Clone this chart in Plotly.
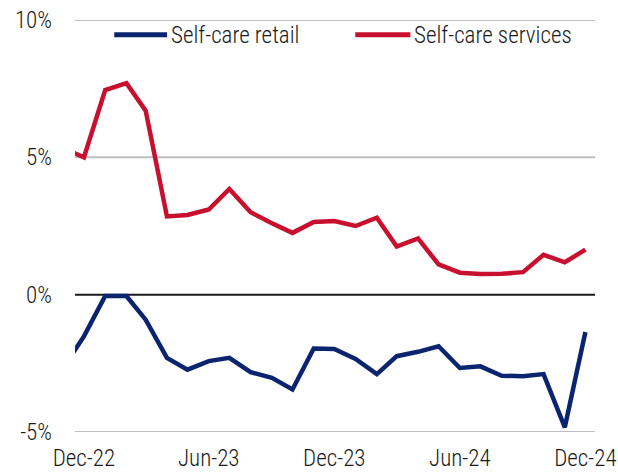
import plotly.graph_objects as go

# Monthly year-over-year growth, Nov-22 .. Dec-24
months = [
    "2022-11-01", "2022-12-01",
    "2023-01-01", "2023-02-01", "2023-03-01", "2023-04-01", "2023-05-01", "2023-06-01",
    "2023-07-01", "2023-08-01", "2023-09-01", "2023-10-01", "2023-11-01", "2023-12-01",
    "2024-01-01", "2024-02-01", "2024-03-01", "2024-04-01", "2024-05-01", "2024-06-01",
    "2024-07-01", "2024-08-01", "2024-09-01", "2024-10-01", "2024-11-01", "2024-12-01",
]
self_care_retail = [
    -2.65, -1.52,
    -0.05, -0.05, -0.91, -2.30, -2.73, -2.42,
    -2.30, -2.82, -3.03, -3.45, -1.96, -1.98,
    -2.34, -2.89, -2.24, -2.08, -1.88, -2.67,
    -2.61, -2.95, -2.97, -2.89, -4.83, -1.36,
]
self_care_services = [
    5.33, 5.00,
    7.45, 7.70, 6.70, 2.85, 2.90, 3.10,
    3.85, 3.00, 2.60, 2.25, 2.65, 2.68,
    2.50, 2.80, 1.75, 2.05, 1.10, 0.80,
    0.75, 0.76, 0.82, 1.45, 1.18, 1.64,
]
series_names = ["Self-care retail", "Self-care services"]
series_colors = ["#0b2470", "#c8102e"]

tick_dates = ["2022-12-01", "2023-06-01", "2023-12-01", "2024-06-01", "2024-12-01"]
tick_text = ["Dec-22", "Jun-23", "Dec-23", "Jun-24", "Dec-24"]
y_ticks = [-5, 0, 5, 10]
y_text = ["-5%", "0%", "5%", "10%"]
grid_levels = [-5, 5, 10]

FONT = "Roboto Condensed, Roboto, sans-serif"
TEXT = dict(family=FONT, size=23, color="#1a1a1a", weight=300)

fig = go.Figure()
for name, vals, color in zip(series_names, [self_care_retail, self_care_services], series_colors):
    fig.add_trace(go.Scatter(
        x=months, y=vals, name=name, mode="lines",
        line=dict(color=color, width=4.5),
        showlegend=False,
    ))

# Horizontal reference lines across the full plot width
for lvl in grid_levels:
    fig.add_shape(type="line", xref="paper", yref="y", x0=0, x1=1, y0=lvl, y1=lvl,
                  line=dict(color="#bfbfbf", width=2), layer="below")
fig.add_shape(type="line", xref="paper", yref="y", x0=0, x1=1, y0=0, y1=0,
              line=dict(color="#1a1a1a", width=2), layer="below")

# Legend drawn as short line swatches with labels above the plot lines
legend_x = [(0.0755, 0.177), (0.539, 0.645)]
for (x0, x1), name, color in zip(legend_x, series_names, series_colors):
    fig.add_shape(type="line", xref="paper", yref="paper",
                  x0=x0, x1=x1, y0=0.964, y1=0.964,
                  line=dict(color=color, width=5))
    fig.add_annotation(xref="paper", yref="paper", x=x1 + 0.004, y=0.962,
                       text=name, showarrow=False, xanchor="left", yanchor="middle",
                       font=TEXT)

fig.update_layout(
    width=618, height=472,
    margin=dict(l=75, r=23, t=20, b=40),
    paper_bgcolor="white", plot_bgcolor="white",
    font=TEXT,
)
fig.update_xaxes(
    type="date",
    range=["2022-11-18", "2024-12-15"],
    tickvals=tick_dates, ticktext=tick_text,
    showgrid=False, zeroline=False, showline=False,
    ticks="", ticklabelstandoff=10, ticklabeloverflow="allow",
    automargin=False,
)
fig.update_yaxes(
    range=[-5, 10],
    tickvals=y_ticks, ticktext=y_text,
    showgrid=False, zeroline=False,
    showline=False, ticks="", ticklabelstandoff=22,
    automargin=False,
)

fig.write_html("out.html")
